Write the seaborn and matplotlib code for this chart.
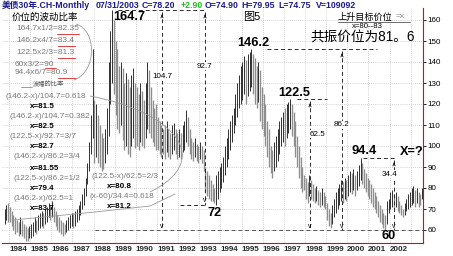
import numpy as np
import pandas as pd
import matplotlib
matplotlib.use("Agg")
import matplotlib.pyplot as plt
import matplotlib.transforms as mtransforms
from matplotlib.path import Path
from matplotlib.patches import PathPatch
import seaborn as sns

# ---------------- data (monthly high / low, Oct 1983 .. Jul 2003) ----------------
high = [70, 72, 73,
        71, 69, 67, 66, 65, 64, 66, 65, 63, 62, 61, 62,
        63, 64, 66, 65, 67, 68, 69, 68, 70, 71, 73, 72,
        74, 71, 69, 67, 66, 65, 64, 63, 65, 66, 67, 68,
        68, 69, 70, 72, 74, 77, 80, 85, 92, 102, 115, 146,
        122, 120, 115, 110, 106, 104, 108, 118, 140, 155, 164.7, 160,
        150, 146, 138, 140, 137, 130, 135, 132, 128, 134, 137, 130,
        128, 125, 130, 126, 122, 130, 140, 136, 128, 122, 118, 120,
        114, 112, 110, 108, 110, 112, 108, 106, 110, 111, 108, 106,
        108, 106, 110, 112, 117, 114, 108, 104, 102, 104, 101, 100,
        102, 100, 98, 90, 88, 86, 84, 82, 80, 86, 88, 90,
        92, 95, 100, 104, 108, 112, 115, 118, 125, 130, 134, 138,
        140, 143, 141, 144, 145, 146.2, 144, 142, 138, 140, 136, 128,
        125, 120, 112, 108, 100, 98, 102, 105, 108, 112, 114, 116,
        118, 120, 121, 122.5, 120, 116, 112, 105, 100, 95, 90, 86,
        85, 83, 86, 84, 82, 80, 81, 79, 78, 80, 78, 76,
        73, 70, 68, 72, 75, 78, 80, 82, 84, 83, 85, 84,
        86, 88, 87, 89, 86, 88, 91, 94.4, 92, 89, 87, 85,
        84, 82, 80, 78, 76, 74, 72, 70, 68, 67, 74, 75,
        78, 79, 77, 78, 76, 74, 72, 70, 73, 75, 77, 78,
        80, 81, 79, 80, 78, 77, 79.95]
low = [63, 65, 64,
       64, 62, 60, 58, 59, 57, 58, 57, 56, 55, 55, 56,
       56, 57, 59, 58, 60, 61, 62, 61, 63, 64, 66, 65,
       66, 64, 62, 60, 59, 58, 57, 58, 59, 60, 61, 62,
       61, 62, 64, 65, 67, 70, 72, 76, 82, 88, 96, 104,
       92, 95, 92, 90, 88, 89, 92, 96, 105, 120, 130, 125,
       115, 108, 106, 110, 103, 98, 100, 96, 95, 100, 104, 99,
       100, 98, 102, 100, 99, 104, 108, 106, 104, 102, 100, 98,
       98, 96, 95, 96, 94, 97, 95, 94, 96, 98, 96, 94,
       95, 94, 97, 98, 102, 100, 96, 94, 93, 95, 93, 92,
       94, 92, 88, 78, 76, 75, 74, 74, 73, 72, 75, 78,
       80, 83, 86, 90, 94, 98, 102, 106, 110, 114, 118, 120,
       122, 125, 120, 124, 126, 128, 125, 120, 118, 121, 112, 108,
       105, 100, 95, 90, 87, 85, 88, 90, 93, 96, 100, 102,
       100, 104, 106, 108, 105, 100, 95, 90, 85, 80, 78, 79,
       75, 73, 76, 75, 74, 73, 74, 72, 71, 72, 71, 70,
       65, 62, 61, 63, 66, 68, 70, 72, 74, 73, 75, 74,
       76, 78, 77, 79, 76, 79, 81, 84, 82, 80, 78, 76,
       75, 73, 71, 70, 68, 66, 64, 63, 61, 60, 63, 68,
       70, 71, 70, 71, 69, 68, 67, 66, 67, 69, 70, 71,
       72, 73, 71, 73, 71, 72, 74.75]

year_labels = [str(y) for y in range(1984, 2003)]
price_ticks = [60, 70, 80, 90, 100, 110, 120, 130, 140, 150, 160]

dates = pd.date_range("1983-10-01", periods=len(high), freq="MS")
df = pd.DataFrame({"date": dates, "high": high, "low": low})
df["t"] = df["date"].dt.year + (df["date"].dt.month - 1) / 12 + 1 / 24
df["mid"] = (df["high"] + df["low"]) / 2
df["up"] = df["mid"].diff().fillna(1) > 0

# ---------------- figure ----------------
sns.set_theme(style="white")
plt.rcParams["font.family"] = ["Liberation Sans", "Noto Sans CJK SC", "DejaVu Sans"]
W, H = 453, 256
fig = plt.figure(figsize=(W / 100, H / 100), dpi=100)
fig.patch.set_facecolor("white")
ax = fig.add_axes([2 / W, 1 - 243 / H, 421 / W, (243 - 8.45) / H])
ax.set_facecolor("white")
ax.set_xlim(1983.667, 2003.58)
ax.set_ylim(60 - 13 / 2.1, 60 + (230 - 8.45) / 2.1)

pix = mtransforms.Affine2D().scale(1 / W, -1 / H).translate(0, 1) + fig.transFigure

# grid
for yr in range(1984, 2004):
    ax.axvline(yr, color="#c4c4c4", lw=0.6, ls=(0, (1, 1.5)), zorder=0)
for p in price_ticks:
    ax.axhline(p, color="#c4c4c4", lw=0.6, ls=(0, (1, 1.5)), zorder=0)

# bars
up = df[df["up"]]
dn = df[~df["up"]]
ax.vlines(dn["t"], dn["low"], dn["high"], color="#8e8e8e", lw=0.95, zorder=2)
ax.vlines(up["t"], up["low"], up["high"], color="#111111", lw=0.6, zorder=3)

# axes styling
for s in ["left", "top"]:
    ax.spines[s].set_visible(False)
for s in ["right", "bottom"]:
    ax.spines[s].set_color("#d01010")
    ax.spines[s].set_linewidth(0.8)
ax.yaxis.tick_right()
ax.set_yticks(price_ticks)
ax.set_yticklabels([str(p) for p in price_ticks], fontsize=5.8)
ax.tick_params(axis="y", length=2.5, width=0.6, pad=1, colors="black", direction="out", right=True)
ax.set_xticks([int(y) + 0.42 for y in year_labels])
ax.set_xticklabels(year_labels, fontsize=5.8, fontweight="bold")
ax.tick_params(axis="x", length=0, pad=2)

# ---------------- header ----------------
navy = "#1c1c86"
hdr = [(2, "美债30年.CH-Monthly", navy), (96, "07/31/2003", navy), (142, "C=78.20", navy),
       (181, "+2.90", "#22c022"), (205, "O=74.90", navy), (241, "H=79.95", navy),
       (278, "L=74.75", navy), (316, "V=109092", navy)]
for x, s, c in hdr:
    fig.text(x / W, 1 - 5 / H, s, color=c, fontsize=6.3, fontweight="bold", va="center", ha="left")

def T(x, y, s, size=5.5, color="#7a7a7a", weight="normal", ha="left", bbox=False, family=None):
    kw = dict(transform=pix, fontsize=size, color=color, fontweight=weight, ha=ha, va="center",
              zorder=6, clip_on=False)
    if family:
        kw["family"] = family
    if bbox:
        kw["bbox"] = dict(facecolor="white", edgecolor="none", pad=0.3)
    ax.text(x, y, s, **kw)

def L(xs, ys, color="#2a2a2a", lw=0.7, ls=(0, (4, 3)), z=4):
    ax.plot(xs, ys, transform=pix, color=color, lw=lw, ls=ls, zorder=z, clip_on=False)

# top-left block
T(12, 17, "价位的波动比率", size=6.8, color="black")
grey_lines = [(16, 29, "164.7x1/2=82.35"), (16, 41, "146.2x4/7=83.4"), (16, 53, "122.5x2/3=81.3"),
              (15, 64, "60x3/2=90"), (15, 73, "94.4x6/7=80.9")]
for x, y, s in grey_lines:
    T(x, y, s, size=6)
for x1, x2, y in [(57, 79, 34), (58, 75, 46), (58, 75, 58), (45, 56, 68), (58, 76, 78)]:
    L([x1, x2], [y, y], color="#e02020", lw=0.6, ls="-")
T(33, 84, "波幅的比率", size=4.5, color="#555555")
L([21, 32], [87, 87], color="#777777", lw=0.5, ls="-")

formulas = [(6, 96, "(146.2-x)/104.7=0.618", False), (30, 106, "x=81.5", True),
            (10, 116, "(146.2-x)/104.7=0.382", False), (30, 127, "x=82.5", True),
            (10, 137, "(122.5-x)/92.7=3/7", False), (30, 147, "x=82.7", True),
            (13, 157, "(146.2-x)/86.2=3/4", False), (30, 168, "x=81.55", True),
            (13, 178, "(122.5-x)/86.2=1/2", False), (30, 188, "x=79.4", True),
            (13, 198, "(146.2-x)/62.5=1", False), (30, 208, "x=83.7", True),
            (92, 177, "(122.5-x)/62.5=2/3", False), (107, 186, "x=80.8", True),
            (90, 196, "(x-60)/34.4=0.618", False), (107, 206, "x=81.2", True)]
for x, y, s, b in formulas:
    if b:
        T(x, y, s, size=5.8, color="black", weight="bold")
    else:
        T(x, y, s, size=5.9)

# grey connector curves
arc1 = Path([(76, 24), (97, 30), (97, 72), (74, 80)],
            [Path.MOVETO, Path.CURVE4, Path.CURVE4, Path.CURVE4])
ax.add_patch(PathPatch(arc1, transform=pix, fill=False, edgecolor="#9a9a9a", lw=0.6, zorder=5, clip_on=False))
arc2 = Path([(90, 96), (175, 112), (215, 160), (150, 192)],
            [Path.MOVETO, Path.CURVE4, Path.CURVE4, Path.CURVE4])
ax.add_patch(PathPatch(arc2, transform=pix, fill=False, edgecolor="#9a9a9a", lw=0.6, zorder=5, clip_on=False))
L([13, 95, 150, 175], [220, 212, 206, 194], color="#9a9a9a", lw=0.6, ls="-", z=5)

# dashed measurement lines
L([118, 205], [10.1, 10.1])
L([162, 162], [12, 230])
L([205, 205], [12, 205])
L([180, 205], [205, 205])
L([267, 377], [49, 49])
L([342, 342], [51, 230])
L([297, 327], [98.8, 98.8])
L([310, 310], [101, 230])
L([363, 395], [157.8, 157.8])
L([394, 394], [160, 230])
L([95, 423], [230, 230], color="#555555")
for x, y in [(162, 12), (205, 12), (342, 51), (310, 101), (394, 160)]:
    ax.annotate("", xy=(x, y), xytext=(x, y + 6), xycoords=pix, textcoords=pix,
                arrowprops=dict(arrowstyle="->", lw=0.6, color="black", mutation_scale=4), zorder=6)
for x, y in [(162, 226), (205, 201), (310, 226), (342, 226), (394, 226)]:
    T(x, y, "v", size=5, color="black", ha="center")

# range labels
T(162, 77, "104.7", size=5.8, color="black", ha="center", bbox=True)
T(204, 66, "92.7", size=5.8, color="black", ha="center", bbox=True)
T(342, 125, "86.2", size=5.8, color="black", ha="center", bbox=True)
T(318, 134, "62.5", size=5.8, color="black", ha="center", bbox=True)
T(390, 174, "34.4", size=5.8, color="black", ha="center", bbox=True)

# big value labels
for x, y, s in [(113, 17, "164.7"), (237, 43, "146.2"), (278, 93, "122.5"), (352, 151, "94.4"),
                (400, 152, "X=?"), (207, 213, "72"), (382, 236, "60")]:
    T(x, y, s, size=9.2, color="black", weight="bold")

# top-right notes
T(243, 17, "图5", size=8, color="black")
T(338, 17, "上升目标价位", size=6.6, color="black")
T(396, 17, "=x", size=6, color="#8a8a8a")
L([338, 410], [22, 22], color="#333333", lw=0.5, ls="-")
T(352, 26, "x=80--83", size=5.6, color="black")
T(310, 38, "共振价位为81。6", size=9.8, color="black")

fig.savefig("out.png", dpi=100)
